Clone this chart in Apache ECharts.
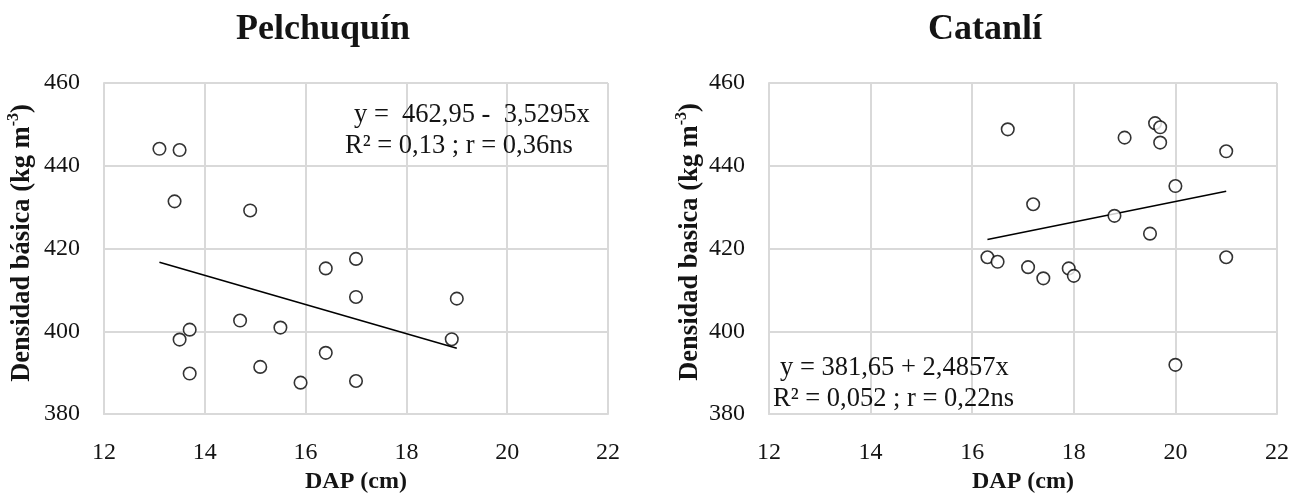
<!DOCTYPE html>
<html>
<head>
<meta charset="utf-8">
<script src="https://cdn.jsdelivr.net/npm/echarts@6/dist/echarts.min.js"></script>
<style>
html,body{margin:0;padding:0;background:#fff;}
#chart{width:1293px;height:499px;}
</style>
</head>
<body>
<div id="chart"></div>
<script>
// ---- Data ----
const titles = ['Pelchuquín', 'Catanlí'];
const xAxisName = 'DAP (cm)';
const yNameMain = ['Densidad básica (kg m', 'Densidad basica (kg m'];
const yNameSup = '-3';
const yNameEnd = ')';

const pelX = [13.1, 13.5, 13.4, 14.9, 16.4, 17.0, 17.0, 19.0, 14.7, 15.5, 13.7, 13.5, 18.9, 16.4, 13.7, 15.1, 15.9, 17.0];
const pelY = [444.1, 443.8, 431.4, 429.2, 415.2, 417.5, 408.3, 407.9, 402.6, 400.9, 400.4, 398.0, 398.1, 394.8, 389.8, 391.4, 387.6, 388.0];
const pelTrendX = [13.1, 19.0];
const pelTrendY = [416.7, 395.9];
const pelEq = ['y =  462,95 -  3,5295x', 'R² = 0,13 ; r = 0,36ns'];

const catX = [16.7, 19.0, 19.6, 19.7, 19.7, 21.0, 20.0, 17.2, 18.8, 19.5, 16.3, 16.5, 17.1, 17.4, 17.9, 18.0, 21.0, 20.0];
const catY = [448.8, 446.8, 450.3, 449.3, 445.6, 443.5, 435.1, 430.7, 427.9, 423.6, 417.9, 416.8, 415.5, 412.8, 415.2, 413.4, 417.9, 391.9];
const catTrendX = [16.3, 21.0];
const catTrendY = [422.2, 433.85];
const catEq = ['y = 381,65 + 2,4857x', 'R² = 0,052 ; r = 0,22ns'];

const xMin = 12, xMax = 22, xStep = 2;
const yMin = 380, yMax = 460, yStep = 20;

// ---- Build ----
const zip = (a, b) => a.map((v, i) => [v, b[i]]);
const FONT = 'Liberation Serif';
const TXT = '#141414';
const GRID = '#d9d9d9';

const grids = [
  {left: 104, top: 83, width: 504, height: 339},
  {left: 769, top: 83, width: 508, height: 341}
];

function xAxis(i) {
  return {
    type: 'value', gridIndex: i, min: xMin, max: xMax, interval: xStep,
    name: xAxisName, nameLocation: 'middle', nameGap: 47,
    nameTextStyle: {fontFamily: FONT, fontWeight: 'bold', fontSize: 24, color: TXT},
    axisLine: {show: true, lineStyle: {color: GRID, width: 2}},
    axisTick: {show: false},
    axisLabel: {fontFamily: FONT, fontSize: 24, color: TXT, margin: 27},
    splitLine: {show: true, lineStyle: {color: GRID, width: 2}}
  };
}
function yAxis(i) {
  return {
    type: 'value', gridIndex: i, min: yMin, max: yMax, interval: yStep,
    axisLine: {show: true, lineStyle: {color: GRID, width: 2}},
    axisTick: {show: false},
    axisLabel: {fontFamily: FONT, fontSize: 24, color: TXT, margin: 24},
    splitLine: {show: true, lineStyle: {color: GRID, width: 2}}
  };
}

function scatter(i, xs, ys) {
  return {
    type: 'scatter', xAxisIndex: i, yAxisIndex: i, data: zip(xs, ys),
    symbol: 'circle', symbolSize: 12.5,
    itemStyle: {color: '#fff', borderColor: '#000', borderWidth: 1.6},
    z: 3, silent: true
  };
}
function trend(i, xs, ys) {
  return {
    type: 'line', xAxisIndex: i, yAxisIndex: i, data: zip(xs, ys),
    symbol: 'none', lineStyle: {color: '#000', width: 1.6}, z: 2, silent: true
  };
}

function txt(text, x, y, size, bold, align) {
  return {
    type: 'text', x: x, y: y, silent: true, z: 10,
    style: {text: text, fontFamily: FONT, fontSize: size, fontWeight: bold ? 'bold' : 'normal',
            fill: TXT, textAlign: align || 'left', textVerticalAlign: 'middle'}
  };
}

const measureCtx = document.createElement('canvas').getContext('2d');
function textW(t, size) {
  measureCtx.font = 'bold ' + size + 'px "Liberation Serif", serif';
  return measureCtx.measureText(t).width;
}
function yName(main, cx, cy) {
  const sMain = 26.5, sSup = 16;
  const w1 = textW(main, sMain), w2 = textW(yNameSup, sSup), w3 = textW(yNameEnd, sMain);
  const total = w1 + w2 + w3;
  const x0 = -total / 2;
  const part = (t, x, y, size) => ({
    type: 'text', x: x, y: y, silent: true,
    style: {text: t, fontFamily: FONT, fontSize: size, fontWeight: 'bold', fill: TXT,
            textAlign: 'left', textVerticalAlign: 'middle'}
  });
  return {
    type: 'group', x: cx, y: cy, rotation: Math.PI / 2, z: 10, silent: true,
    children: [
      part(main, x0, 0, sMain),
      part(yNameSup, x0 + w1, -8, sSup),
      part(yNameEnd, x0 + w1 + w2, 0, sMain)
    ]
  };
}

const chart = echarts.init(document.getElementById('chart'), null, {renderer: 'canvas'});
chart.setOption({
  backgroundColor: '#fff',
  animation: false,
  textStyle: {fontFamily: FONT},
  grid: grids,
  xAxis: [xAxis(0), xAxis(1)],
  yAxis: [yAxis(0), yAxis(1)],
  series: [
    scatter(0, pelX, pelY), trend(0, pelTrendX, pelTrendY),
    scatter(1, catX, catY), trend(1, catTrendX, catTrendY)
  ],
  graphic: [
    txt(titles[0], 323, 30, 36, true, 'center'),
    txt(titles[1], 985, 30, 36, true, 'center'),
    yName(yNameMain[0], 22, 243),
    yName(yNameMain[1], 690, 242),
    txt(pelEq[0], 354, 115, 26.5),
    txt(pelEq[1], 345, 146, 26.5),
    txt(catEq[0], 780, 368, 26.5),
    txt(catEq[1], 773, 399, 26.5)
  ]
});
</script>
</body>
</html>
